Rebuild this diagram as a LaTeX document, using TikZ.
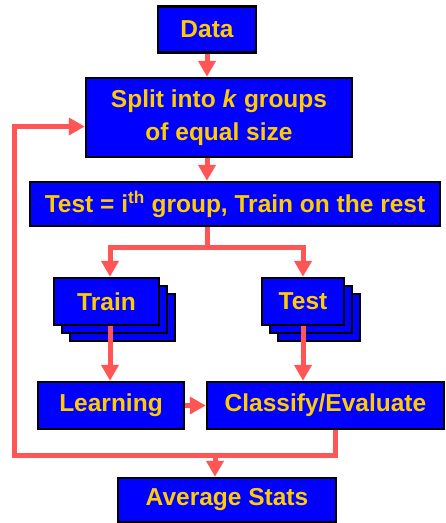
\documentclass[tikz,border=0pt]{standalone}
\usepackage{fontspec}
\setmainfont{Liberation Sans}
\usetikzlibrary{arrows.meta,calc}
\definecolor{boxblue}{RGB}{0,0,255}
\definecolor{txtyellow}{RGB}{255,204,0}
\definecolor{arrred}{RGB}{255,85,85}
\tikzset{
  box/.style={draw=black, line width=2.5pt, fill=boxblue, text=txtyellow,
    font=\fontsize{24.5}{33}\selectfont\bfseries, inner sep=0pt, align=center},
  backbox/.style={draw=black, line width=2.5pt, fill=boxblue},
  conn/.style={draw=arrred, line width=5pt},
  arr/.style={conn, -{Triangle[width=17pt,length=16pt]}},
}
\begin{document}
\begin{tikzpicture}[x=1pt,y=-1pt]
\useasboundingbox (0,0) rectangle (446,523);
\fill[white] (0,0) rectangle (446,523);
% boxes
\node[box, minimum width=98pt, minimum height=46pt] (data) at (207,29.5) {Data};
\node[box, minimum width=266pt, minimum height=79pt] (split) at (219,117.5) {Split into \textit{k} groups\\of equal size};
\node[box, minimum width=410pt, minimum height=44pt] (tst) at (235,204) {Test = i\textsuperscript{th} group, Train on the rest};
% stacked train
\node[backbox, minimum width=105pt, minimum height=47pt] (trainb2) at (122.5,317.5) {};
\node[backbox, minimum width=105pt, minimum height=47pt] (trainb1) at (114.5,309.5) {};
\node[box, minimum width=105pt, minimum height=47pt] (train) at (106.5,301.5) {Train};
% stacked test
\node[backbox, minimum width=82pt, minimum height=47pt] (testb2) at (319,317.5) {};
\node[backbox, minimum width=82pt, minimum height=47pt] (testb1) at (311,309.5) {};
\node[box, minimum width=82pt, minimum height=47pt] (testf) at (303,301.5) {Test};
\node[box, minimum width=146pt, minimum height=47pt] (learn) at (111,405.5) {Learning};
\node[box, minimum width=237pt, minimum height=47pt] (classify) at (325.5,405.5) {Classify/Evaluate};
\node[box, minimum width=218pt, minimum height=44pt] (avg) at (227,500) {Average Stats};
% connectors
\draw[arr] (data.south) -- (data.south |- split.north);
\draw[arr] (data.south |- split.south) -- (data.south |- tst.north);
\coordinate (fork) at (207,247);
\draw[conn] (data.south |- tst.south) -- (fork);
\draw[arr] (fork) -| ([xshift=3.5pt]train.north);
\draw[arr] (fork) -| (testf.north);
\draw[arr] ([xshift=3.5pt]train.south) -- ([xshift=3.5pt]train.south |- learn.north);
\draw[arr] (testf.south) -- (testf.south |- classify.north);
\draw[arr] (learn.east) -- (classify.west);
\coordinate (join) at (215,455);
\coordinate (leftc) at (14,455);
\draw[arr] ([xshift=9.5pt]classify.south) |- (leftc) |- ([yshift=-9pt]split.west);
\draw[arr] (join) -- (join |- avg.north);
\end{tikzpicture}
\end{document}
